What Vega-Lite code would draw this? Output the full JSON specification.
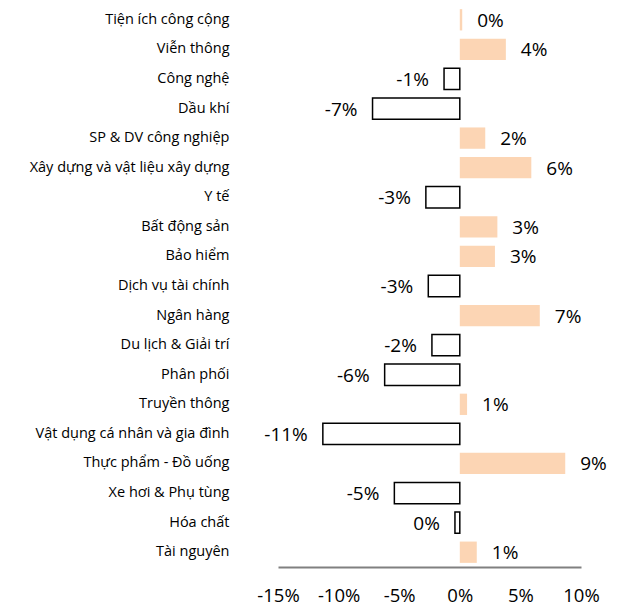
{
  "$schema": "https://vega.github.io/schema/vega-lite/v6.json",
  "width": 303,
  "height": 562,
  "autosize": "none",
  "padding": {"left": 278, "top": 5, "right": 40, "bottom": 44},
  "background": "white",
  "config": {"view": {"stroke": null}, "font": "Open Sans"},
  "data": {
    "values": [
      {"sector": "Tiện ích công cộng", "value": 0.2, "label": "0%"},
      {"sector": "Viễn thông", "value": 3.8, "label": "4%"},
      {"sector": "Công nghệ", "value": -1.3, "label": "-1%"},
      {"sector": "Dầu khí", "value": -7.2, "label": "-7%"},
      {"sector": "SP & DV công nghiệp", "value": 2.1, "label": "2%"},
      {"sector": "Xây dựng và vật liệu xây dựng", "value": 5.9, "label": "6%"},
      {"sector": "Y tế", "value": -2.8, "label": "-3%"},
      {"sector": "Bất động sản", "value": 3.1, "label": "3%"},
      {"sector": "Bảo hiểm", "value": 2.9, "label": "3%"},
      {"sector": "Dịch vụ tài chính", "value": -2.6, "label": "-3%"},
      {"sector": "Ngân hàng", "value": 6.6, "label": "7%"},
      {"sector": "Du lịch & Giải trí", "value": -2.3, "label": "-2%"},
      {"sector": "Phân phối", "value": -6.2, "label": "-6%"},
      {"sector": "Truyền thông", "value": 0.6, "label": "1%"},
      {"sector": "Vật dụng cá nhân và gia đình", "value": -11.3, "label": "-11%"},
      {"sector": "Thực phẩm - Đồ uống", "value": 8.7, "label": "9%"},
      {"sector": "Xe hơi & Phụ tùng", "value": -5.4, "label": "-5%"},
      {"sector": "Hóa chất", "value": -0.4, "label": "0%"},
      {"sector": "Tài nguyên", "value": 1.4, "label": "1%"}
    ]
  },
  "encoding": {
    "y": {
      "field": "sector", "type": "nominal", "sort": null, "title": null,
      "scale": {"paddingInner": 0.28, "paddingOuter": 0.14},
      "axis": {"domain": false, "ticks": false, "labelPadding": 49, "labelFontSize": 14.5, "labelLimit": 0, "labelColor": "#000000", "labelFont": "Open Sans"}
    }
  },
  "layer": [
    {
      "mark": {"type": "bar", "strokeWidth": 1.5},
      "encoding": {
        "x": {
          "field": "value", "type": "quantitative", "title": null,
          "scale": {"domain": [-15, 10], "nice": false, "zero": false},
          "axis": {
            "values": [-15, -10, -5, 0, 5, 10],
            "labelExpr": "datum.value + '%'",
            "grid": false, "ticks": false,
            "labelFlush": false, "labelOverlap": false,
            "domainColor": "#808080", "domainWidth": 2,
            "labelFontSize": 18.5, "labelColor": "#000000", "labelPadding": 19,
            "labelFont": "Open Sans"
          }
        },
        "fill": {"condition": {"test": "datum.value >= 0", "value": "#FCD5B4"}, "value": "#FFFFFF"},
        "stroke": {"condition": {"test": "datum.value >= 0", "value": null}, "value": "#000000"}
      }
    },
    {
      "transform": [{"filter": "datum.value >= 0"}],
      "mark": {"type": "text", "align": "left", "baseline": "middle", "dx": 15, "dy": 1, "fontSize": 19, "color": "#000000"},
      "encoding": {"x": {"field": "value", "type": "quantitative"}, "text": {"field": "label"}}
    },
    {
      "transform": [{"filter": "datum.value < 0"}],
      "mark": {"type": "text", "align": "right", "baseline": "middle", "dx": -15, "dy": 1, "fontSize": 19, "color": "#000000"},
      "encoding": {"x": {"field": "value", "type": "quantitative"}, "text": {"field": "label"}}
    },
    {
      "mark": {"type": "rule", "color": "#808080", "strokeWidth": 2},
      "encoding": {"x": {"datum": 0}}
    }
  ]
}
